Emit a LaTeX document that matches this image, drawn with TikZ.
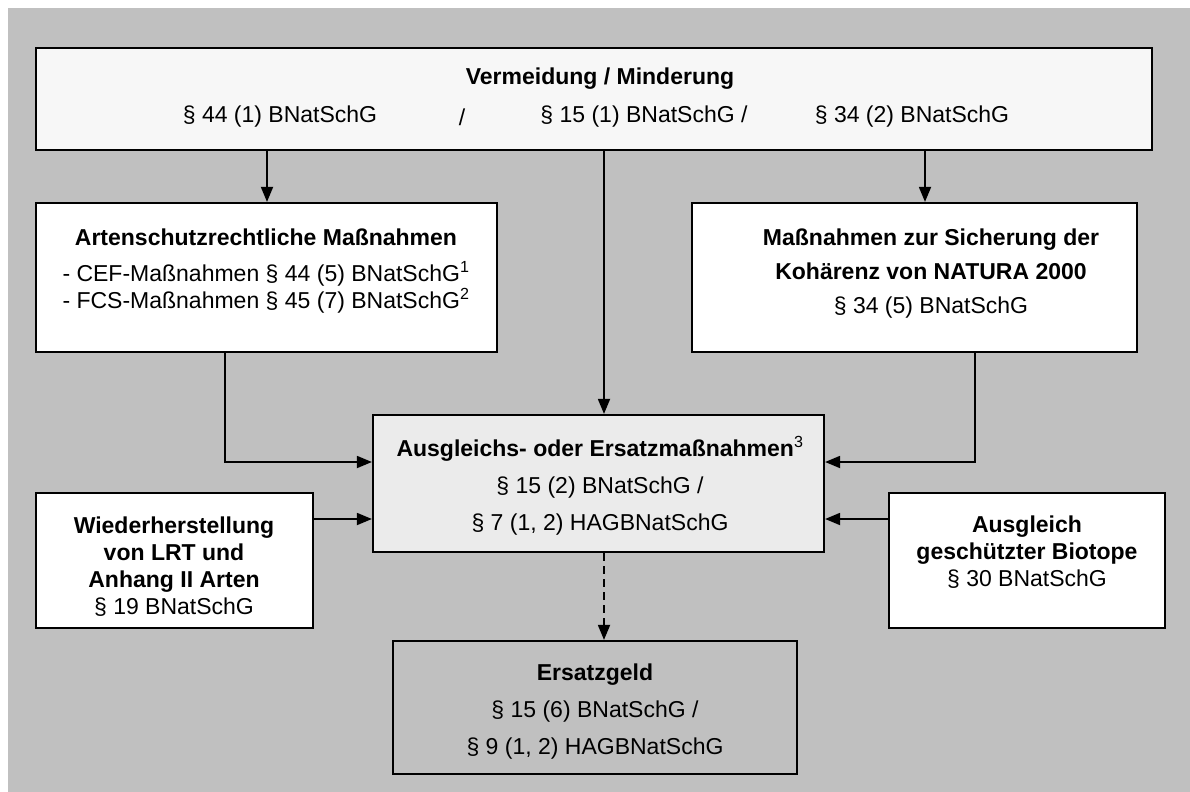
\documentclass[tikz,border=0pt]{standalone}
\usepackage{fontspec}
\setmainfont{Liberation Sans}
\usetikzlibrary{arrows.meta}
\definecolor{bggray}{HTML}{C0C0C0}
\definecolor{topfill}{HTML}{F7F7F7}
\definecolor{midfill}{HTML}{EBEBEB}
\tikzset{
  boxstyle/.style={draw=black, line width=2.2bp, fill=white, inner sep=0pt},
  txt/.style={align=center, inner sep=0pt, font=\fontsize{23bp}{27bp}\selectfont},
  conn/.style={line width=1.8bp, -{Triangle[length=15bp,width=12bp]}},
}
\begin{document}
\begin{tikzpicture}[x=1bp,y=-1bp]
\useasboundingbox (0,0) rectangle (1190,792);
\fill[bggray] (8,8) rectangle (1190,792);

% boxes
\node[boxstyle, fill=topfill, minimum width=1116bp, minimum height=102bp] (top) at (594,99) {};
\node[boxstyle, minimum width=461bp, minimum height=149bp] (arten) at (266.5,277.5) {};
\node[boxstyle, minimum width=445bp, minimum height=149bp] (natura) at (914.5,277.5) {};
\node[boxstyle, fill=midfill, minimum width=451bp, minimum height=137bp] (mid) at (598.5,483.5) {};
\node[boxstyle, minimum width=277bp, minimum height=135bp] (wieder) at (174.5,560.5) {};
\node[boxstyle, minimum width=276bp, minimum height=135bp] (bio) at (1027,560.5) {};
\node[boxstyle, fill=bggray, minimum width=404bp, minimum height=133bp] (geld) at (595,707.5) {};

% texts
\node[txt, font=\fontsize{23bp}{27bp}\selectfont\bfseries] (toptitle) at (600,79) {Vermeidung / Minderung};
\node[txt] (topa) at (280,117) {§ 44 (1) BNatSchG};
\node[txt] (topb) at (462,117) {/};
\node[txt] (topc) at (644,117) {§ 15 (1) BNatSchG /};
\node[txt] (topd) at (912,117) {§ 34 (2) BNatSchG};

\node[txt] (artent) at (266,271) {\textbf{Artenschutzrechtliche Maßnahmen}\\[9bp]
  - CEF-Maßnahmen § 44 (5) BNatSchG\textsuperscript{1}\\
  - FCS-Maßnahmen § 45 (7) BNatSchG\textsuperscript{2}};
\node[txt, font=\fontsize{23bp}{34bp}\selectfont] (naturat) at (931,274) {\textbf{Maßnahmen zur Sicherung der}\\
  \textbf{Kohärenz von NATURA 2000}\\
  § 34 (5) BNatSchG};
\node[txt, font=\fontsize{23bp}{37bp}\selectfont] (midt) at (600,486) {\textbf{Ausgleichs- oder Ersatzmaßnahmen}\textsuperscript{3}\\
  § 15 (2) BNatSchG /\\
  § 7 (1, 2) HAGBNatSchG};
\node[txt] (wiedert) at (174,567) {\textbf{Wiederherstellung}\\
  \textbf{von LRT und}\\
  \textbf{Anhang II Arten}\\
  § 19 BNatSchG};
\node[txt] (biot) at (1027,552) {\textbf{Ausgleich}\\
  \textbf{geschützter Biotope}\\
  § 30 BNatSchG};
\node[txt, font=\fontsize{23bp}{37bp}\selectfont] (geldt) at (595,712) {\textbf{Ersatzgeld}\\
  § 15 (6) BNatSchG /\\
  § 9 (1, 2) HAGBNatSchG};

% connectors
\draw[conn] (top.south -| 267,0) -- (arten.north -| 267,0);
\draw[conn] (top.south -| 604,0) -- (mid.north -| 604,0);
\draw[conn] (top.south -| 925,0) -- (natura.north -| 925,0);
\draw[conn] (arten.south -| 225,0) |- (mid.west |- 0,462);
\draw[conn] (natura.south -| 975,0) |- (mid.east |- 0,462);
\draw[conn] (wieder.east |- 0,519) -- (mid.west |- 0,519);
\draw[conn] (bio.west |- 0,519) -- (mid.east |- 0,519);
\draw[conn, dash pattern=on 8bp off 5bp] (mid.south -| 604,0) -- (geld.north -| 604,0);
\end{tikzpicture}
\end{document}
